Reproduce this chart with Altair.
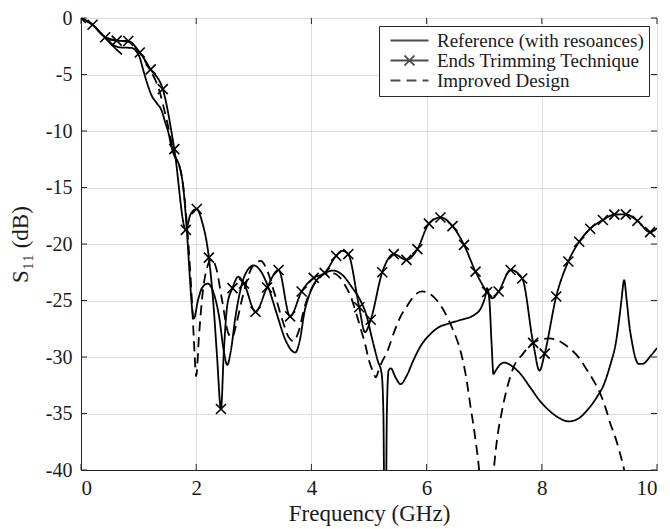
import altair as alt
import pandas as pd

# ---------------- data ----------------
SERIES = ["Reference (with resoances)", "Ends Trimming Technique", "Improved Design"]

ref_f = [0, 0.2, 0.42, 0.55, 0.68, 0.88, 0.96, 1.02, 1.08, 1.15, 1.23, 1.31, 1.4, 1.46, 1.52,
         1.58, 1.63, 1.68, 1.72, 1.78, 1.84, 1.89, 1.93, 1.96, 2.03, 2.1, 2.2, 2.3, 2.4, 2.48,
         2.54, 2.6, 2.68, 2.78, 2.88, 3.0, 3.12, 3.25, 3.4, 3.55, 3.72, 3.8, 3.88, 3.95, 4.05,
         4.2, 4.38, 4.55, 4.7, 4.85, 4.95, 5.05, 5.15, 5.22, 5.25, 5.27, 5.29, 5.31, 5.34, 5.38,
         5.46, 5.55, 5.65, 5.77, 5.9, 6.06, 6.2, 6.41, 6.6, 6.82, 6.95, 7.02, 7.05, 7.09, 7.13,
         7.16, 7.2, 7.27, 7.35, 7.48, 7.63, 7.8, 7.97, 8.12, 8.27, 8.47, 8.65, 8.79, 8.95, 9.08,
         9.2, 9.28, 9.34, 9.38, 9.43, 9.47, 9.52, 9.57, 9.62, 9.68, 9.75, 9.89, 10.0]
ref_db = [0, -0.6, -1.75, -2.35, -2.6, -2.65, -2.95, -3.5, -4.6, -5.8, -6.9, -7.5, -8.2, -9.2, -10.2,
          -11.6, -12.3, -12.7, -13.3, -15.2, -19.0, -23.0, -25.8, -26.6, -25.0, -23.9, -23.5, -24.3, -26.5, -29.5,
          -30.7, -29.5, -26.5, -23.8, -22.4, -21.9, -22.4, -23.8, -26.2, -28.5, -29.6, -28.5, -26.0, -24.7, -23.5,
          -22.7, -22.35, -22.8, -23.8, -25.0, -26.2, -28.3, -30.3, -31.5, -35.0, -45.0, -45.0, -35.0, -31.2, -31.0,
          -31.8, -32.4, -31.7, -30.3, -29.0, -28.0, -27.4, -27.0, -26.7, -26.3, -25.6, -24.6, -23.9, -25.0, -29.0,
          -31.5, -31.2, -30.7, -30.5, -30.8, -31.5, -32.7, -33.9, -34.7, -35.3, -35.7, -35.4, -34.7, -33.6, -32.4,
          -30.5, -28.9, -26.8, -25.1, -23.2, -24.8, -27.2, -28.8, -30.0, -30.6, -30.6, -29.9, -29.2]
# short stray fragment of the reference trace near 0.5 GHz
ref2_f = [0.42, 0.56, 0.71]
ref2_db = [-1.75, -2.5, -3.22]

ett_f = [0, 0.2, 0.42, 0.62, 0.82, 1.02, 1.21, 1.42, 1.62, 1.82, 1.9, 2.01, 2.1, 2.22, 2.3, 2.36,
         2.43, 2.48, 2.54, 2.63, 2.73, 2.83, 3.03, 3.23, 3.43, 3.63, 3.83, 4.04, 4.23, 4.43, 4.54,
         4.64, 4.83, 4.93, 5.03, 5.23, 5.43, 5.65, 5.84, 6.04, 6.24, 6.45, 6.65, 6.85, 7.05, 7.14,
         7.25, 7.46, 7.66, 7.85, 7.96, 8.05, 8.25, 8.46, 8.65, 8.84, 9.06, 9.26, 9.46, 9.66, 9.88, 10.0]
ett_db = [0, -0.6, -1.7, -2.0, -2.04, -3.05, -4.55, -6.3, -11.6, -18.75, -17.4, -16.9, -18.0, -21.2, -25.4, -29.8,
          -34.6, -29.5, -25.4, -23.9, -22.9, -23.5, -26.0, -23.85, -22.3, -26.4, -24.2, -23.0, -22.55, -21.05, -20.6,
          -20.9, -25.6, -27.8, -26.7, -22.5, -20.9, -21.4, -20.45, -18.2, -17.65, -18.42, -20.08, -22.45, -24.25, -24.8,
          -24.2, -22.3, -23.05, -28.75, -31.2, -29.7, -24.65, -21.55, -19.8, -18.65, -17.88, -17.4, -17.38, -17.95, -18.95, -18.6]
ett_marker = [1, 1, 1, 1, 1, 1, 1, 1, 1, 1, 0, 1, 0, 1, 0, 0,
              1, 0, 0, 1, 0, 1, 1, 1, 1, 1, 1, 1, 1, 1, 0,
              1, 1, 0, 1, 1, 1, 1, 1, 1, 1, 1, 1, 1, 1, 0,
              1, 1, 1, 1, 0, 1, 1, 1, 1, 1, 1, 1, 1, 1, 1, 0]

imp_f = [0, 0.2, 0.42, 0.62, 0.82, 1.02, 1.21, 1.3, 1.37, 1.43, 1.5, 1.58, 1.64, 1.7, 1.75, 1.81,
         1.87, 1.92, 1.96, 2.0, 2.05, 2.12, 2.2, 2.27, 2.35, 2.45, 2.55, 2.62, 2.7, 2.8, 2.92,
         3.02, 3.12, 3.22, 3.35, 3.5, 3.6, 3.69, 3.78, 3.88, 3.98, 4.1, 4.25, 4.38, 4.5, 4.6,
         4.68, 4.77, 4.85, 4.93, 5.0, 5.07, 5.12, 5.16, 5.22, 5.31, 5.45, 5.56, 5.66, 5.78, 5.92,
         6.05, 6.18, 6.31, 6.45, 6.59, 6.68, 6.76, 6.84, 6.92, 7.03, 7.14, 7.22, 7.3, 7.37, 7.45,
         7.51, 7.66, 7.86, 8.0, 8.12, 8.27, 8.4, 8.5, 8.65, 8.79, 8.9, 9.02, 9.12, 9.19, 9.27,
         9.34, 9.43, 9.6]
imp_db = [0, -0.6, -1.7, -2.0, -2.1, -3.1, -4.7, -5.6, -6.6, -7.8, -9.3, -11.2, -12.3, -13.0, -14.0, -16.6,
          -20.4, -24.5, -28.5, -31.7, -28.0, -24.0, -21.9, -21.3, -22.2, -25.0, -27.8, -28.3, -27.0, -24.8, -22.6,
          -21.7, -21.5, -22.2, -24.2, -26.8, -28.2, -28.6, -27.7, -25.6, -24.2, -23.2, -22.6, -22.6, -23.0, -23.8,
          -24.6, -26.0, -27.4, -28.8, -30.3, -31.3, -31.8, -31.3, -30.5, -29.6, -27.6, -26.3, -25.5, -24.6, -24.2,
          -24.4, -25.0, -26.0, -27.5, -29.5, -31.6, -34.3, -37.0, -40.5, -50.0, -41.5, -37.4, -35.0, -33.3, -31.8,
          -30.9, -29.8, -28.7, -28.45, -28.35, -28.5, -28.9, -29.3, -30.1, -31.2, -32.1, -33.3, -34.7, -35.9, -37.0,
          -38.2, -40.0, -45.0]

xticks = [0, 2, 4, 6, 8, 10]
yticks = [-40, -35, -30, -25, -20, -15, -10, -5, 0]

# ---------------- tables ----------------
rows = []
for f, d in zip(ref_f, ref_db):
    rows.append({"series": SERIES[0], "seg": "r1", "f": f, "db": d})
for f, d in zip(ref2_f, ref2_db):
    rows.append({"series": SERIES[0], "seg": "r2", "f": f, "db": d})
for f, d in zip(ett_f, ett_db):
    rows.append({"series": SERIES[1], "seg": "e", "f": f, "db": d})
for f, d in zip(imp_f, imp_db):
    rows.append({"series": SERIES[2], "seg": "i", "f": f, "db": d})
lines_df = pd.DataFrame(rows)

marks_df = pd.DataFrame({"f": [f for f, m in zip(ett_f, ett_marker) if m],
                         "db": [d for d, m in zip(ett_db, ett_marker) if m]})

W, H = 576, 452
FONT = "Liberation Serif"
INK = "#1a1a1a"
AX = "#262626"
GRID = "#dedede"

xs = alt.Scale(domain=[0, 10], nice=False, zero=False)
ys = alt.Scale(domain=[-40, 0], nice=False, zero=False)

xaxis = alt.Axis(values=xticks, title="Frequency (GHz)", labelFontSize=21, titleFontSize=23,
                 tickSize=0, labelPadding=7, titlePadding=4, grid=True, gridColor=GRID,
                 domainColor=AX, labelColor=INK, titleColor=INK, labelFont=FONT, titleFont=FONT,
                 titleFontWeight="normal", labelExpr="'' + datum.value")
yaxis = alt.Axis(values=yticks, title="S\u2081\u2081 (dB)", labelFontSize=20, titleFontSize=23,
                 tickSize=0, labelPadding=9, titlePadding=13, grid=True, gridColor=GRID,
                 domainColor=AX, labelColor=INK, titleColor=INK, labelFont=FONT, titleFont=FONT,
                 titleFontWeight="normal", labelExpr="'' + datum.value")

X = alt.X("f:Q", scale=xs, axis=xaxis)
Y = alt.Y("db:Q", scale=ys, axis=yaxis)

LINE = "M-0.6,0H7"
LINEX = "M-0.6,0H7M2.2,-1L4.2,1M2.2,1L4.2,-1"


def make_legend():
    return alt.Legend(title=None, orient="top-right", offset=8, padding=5,
                      symbolSize=100, symbolStrokeWidth=1.8, symbolStrokeColor="black",
                      symbolFillColor="transparent", labelOffset=34, labelFont=FONT,
                      labelFontSize=19, labelColor=INK, strokeColor=AX, fillColor="white",
                      rowPadding=0, labelLimit=400)


lines = alt.Chart(lines_df).mark_line(clip=True, strokeWidth=1.8, color="black",
                                      interpolate="monotone").encode(
    x=X, y=Y,
    strokeDash=alt.StrokeDash("series:N",
                              scale=alt.Scale(domain=SERIES, range=[[1, 0], [1, 0], [10, 6]]),
                              legend=make_legend()),
    detail="seg:N",
)

# invisible (clipped) helper layer that only supplies the legend symbol shapes
ghost = alt.Chart(pd.DataFrame({"series": SERIES})).mark_point(
    filled=False, color="black", clip=True, size=100, strokeWidth=1.8).encode(
    x=alt.value(-300), y=alt.value(-300),
    shape=alt.Shape("series:N", scale=alt.Scale(domain=SERIES, range=[LINE, LINEX, LINE]),
                    legend=make_legend()),
)

markers = alt.Chart(marks_df).mark_point(shape="M-1,-1L1,1M-1,1L1,-1", size=100, strokeWidth=1.6,
                                         color="black", filled=False, clip=True, opacity=1).encode(
    x=X, y=Y)

ytick_df = pd.DataFrame({"db": yticks})
xtick_df = pd.DataFrame({"f": xticks})
tk = dict(color=AX, strokeWidth=1)
lt = alt.Chart(ytick_df).mark_rule(**tk).encode(y=Y, x=alt.value(0), x2=alt.value(6))
rt = alt.Chart(ytick_df).mark_rule(**tk).encode(y=Y, x=alt.value(W - 6), x2=alt.value(W))
bt = alt.Chart(xtick_df).mark_rule(**tk).encode(x=X, y=alt.value(H - 6), y2=alt.value(H))
tt = alt.Chart(xtick_df).mark_rule(**tk).encode(x=X, y=alt.value(0), y2=alt.value(6))

chart = alt.layer(lt, rt, bt, tt, lines, markers, ghost).properties(
    width=W, height=H,
    autosize=alt.AutoSizeParams(type="none"),
    padding={"left": 73, "top": 10, "right": 5, "bottom": 60},
).configure_view(stroke=AX, strokeWidth=1).configure(font=FONT, background="white")

chart.save("out.html", embed_options={"renderer": "svg", "actions": False})
